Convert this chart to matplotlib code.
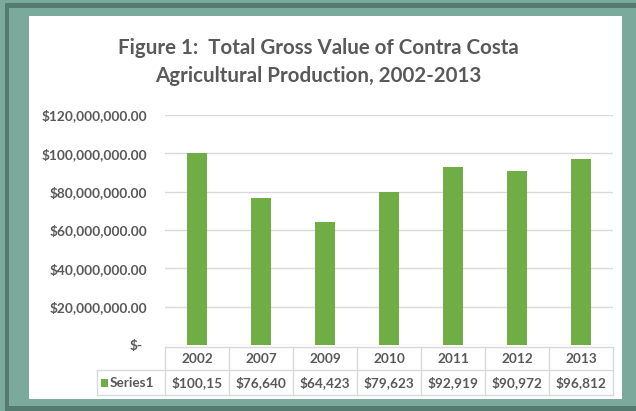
import matplotlib.pyplot as plt
import matplotlib.patches as mpatches
from matplotlib.transforms import blended_transform_factory
import numpy as np

years = ["2002", "2007", "2009", "2010", "2011", "2012", "2013"]
values = [100150000, 76640000, 64423000, 79623000, 92919000, 90972000, 96812000]
yticks = [0, 20000000, 40000000, 60000000, 80000000, 100000000, 120000000]
series_name = "Series1"
title = "Figure 1:  Total Gross Value of Contra Costa\nAgricultural Production, 2002-2013"

W, H = 636, 411
green = "#70ad47"
txt = "#595959"
grid = "#d9d9d9"
plt.rcParams['font.family'] = ['Lato', 'DejaVu Sans']

fig = plt.figure(figsize=(W / 100, H / 100), dpi=100)
fig.patch.set_facecolor("#7ba99c")


def px(x0, y0, x1, y1):
    # pixel box (top-left origin) -> figure fraction rect
    return [x0 / W, 1 - y1 / H, (x1 - x0) / W, (y1 - y0) / H]


# frame strips and white panel
for box, col in [((5, 3, 636, 8), "#557b70"), ((5, 3, 9, 411), "#557b70"),
                 ((5, 406, 636, 411), "#557b70"), ((29, 16, 622, 399), "white")]:
    r = px(*box)
    fig.patches.append(mpatches.Rectangle((r[0], r[1]), r[2], r[3], transform=fig.transFigure,
                                          facecolor=col, edgecolor="none", zorder=-5))

fig.text(318 / W, 1 - 62 / H, title, ha="center", va="center", fontsize=14.8,
         fontweight="bold", color=txt, linespacing=1.5)

ax = fig.add_axes(px(165, 115, 613, 345))
ax.set_facecolor("none")
x = np.arange(len(years))
ax.bar(x, values, width=0.31, color=green, zorder=3)
ax.set_xlim(-0.5, len(years) - 0.5)
ax.set_ylim(0, 120000000)
ax.set_yticks(yticks)
ax.set_yticklabels(["" if v == 0 else f"${v:,.2f}" for v in yticks])
ax.tick_params(axis="y", length=0, pad=13, labelsize=9.9, labelcolor=txt)
for lab in ax.get_yticklabels():
    lab.set_fontweight("bold")
# zero label is drawn as "$-" a little left, like the accounting format
fig.text(143 / W, 1 - 346 / H, "$-", ha="right", va="center", fontsize=9.9,
         fontweight="bold", color=txt)
ax.set_xticks([])
ax.grid(axis="y", color=grid, linewidth=1, zorder=0)
for s in ax.spines.values():
    s.set_visible(False)

# data table below the axis
tr = blended_transform_factory(ax.transData, fig.transFigure)
y_top, y_mid, y_bot = 1 - 347 / H, 1 - 370 / H, 1 - 395 / H
lx = (97 - 165) / (613 - 165) * len(years) - 0.5
kw = dict(color=grid, linewidth=1, transform=tr, clip_on=False)
ax.plot([-0.5, len(years) - 0.5], [y_top, y_top], **kw)
ax.plot([lx, len(years) - 0.5], [y_mid, y_mid], **kw)
ax.plot([lx, len(years) - 0.5], [y_bot, y_bot], **kw)
ax.plot([lx, lx], [y_mid, y_bot], **kw)
for i in range(len(years) + 1):
    ax.plot([i - 0.5, i - 0.5], [y_top, y_bot], **kw)
for i, (yr, v) in enumerate(zip(years, values)):
    ax.text(i, (y_top + y_mid) / 2, yr, ha="center", va="center", fontsize=9.8,
            fontweight="bold", color=txt, transform=tr)
    ax.text(i, (y_mid + y_bot) / 2, f"${v:,.0f}"[:7], ha="center", va="center",
            fontsize=9.8, fontweight="bold", color=txt, transform=tr)
sq = 8 / H
ax.add_patch(mpatches.Rectangle((lx + 0.06, (y_mid + y_bot) / 2 - sq / 2), 0.11, sq,
                                facecolor=green, edgecolor="none", transform=tr, clip_on=False))
ax.text(lx + 0.2, (y_mid + y_bot) / 2, series_name, ha="left", va="center", fontsize=9.8,
        fontweight="bold", color=txt, transform=tr)

fig.savefig("out.png", dpi=100)
